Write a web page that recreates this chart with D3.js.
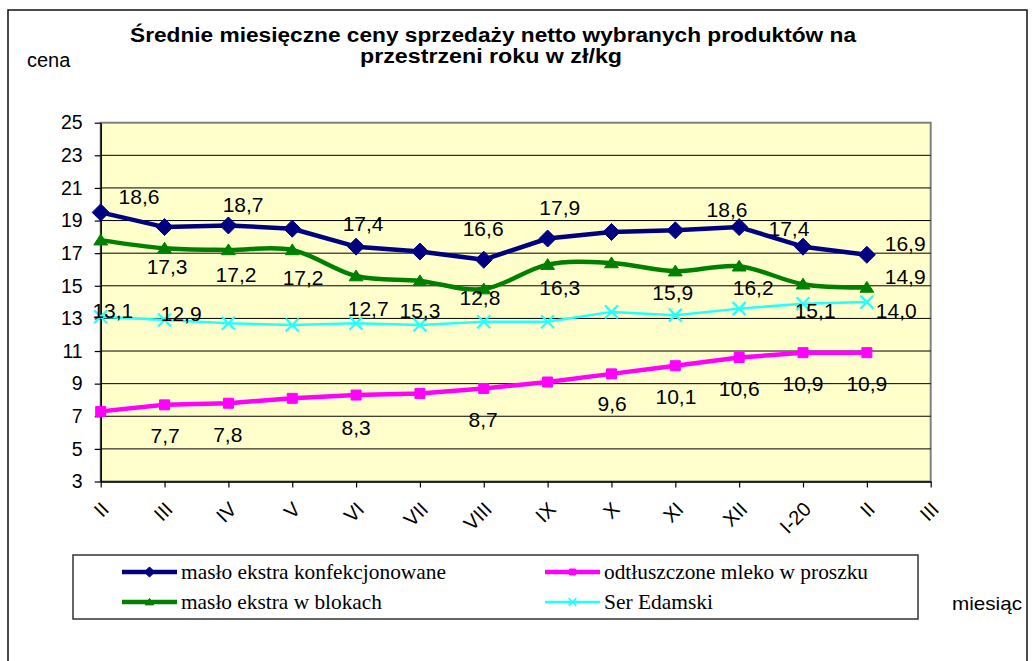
<!DOCTYPE html>
<html>
<head>
<meta charset="utf-8">
<script src="https://cdn.jsdelivr.net/npm/d3@7"></script>
<style>
  body { margin: 0; background: #fff; }
  svg text { fill: #000; }
</style>
</head>
<body>
<div id="chart"></div>
<script>
// DATA
const months = ["II", "III", "IV", "V", "VI", "VII", "VIII", "IX", "X", "XI", "XII", "I-20", "II", "III"];
const masloKonf = [19.5, 18.6, 18.7, 18.5, 17.4, 17.1, 16.6, 17.9, 18.3, 18.4, 18.6, 17.4, 16.9];
const masloBloki = [17.8, 17.3, 17.2, 17.2, 15.6, 15.3, 14.8, 16.3, 16.4, 15.9, 16.2, 15.1, 14.9];
const mleko = [7.3, 7.7, 7.8, 8.1, 8.3, 8.4, 8.7, 9.1, 9.6, 10.1, 10.6, 10.9, 10.9];
const ser = [13.1, 12.9, 12.7, 12.6, 12.7, 12.6, 12.8, 12.8, 13.4, 13.2, 13.6, 13.9, 14.0];
const yTicks = [3, 5, 7, 9, 11, 13, 15, 17, 19, 21, 23, 25];

// DATA LABELS: [month position, value level, text]
const masloKonfLabels = [[0.6, 20.5, "18,6"], [2.23, 20.0, "18,7"], [4.11, 18.8, "17,4"], [5.99, 18.5, "16,6"],
    [7.19, 19.8, "17,9"], [9.81, 19.7, "18,6"], [10.78, 18.5, "17,4"], [12.6, 17.6, "16,9"]];
const masloBlokiLabels = [[1.04, 16.2, "17,3"], [2.12, 15.7, "17,2"], [3.17, 15.5, "17,2"], [5.0, 13.5, "15,3"],
    [7.19, 14.9, "16,3"], [8.96, 14.6, "15,9"], [10.22, 14.9, "16,2"], [11.19, 13.5, "15,1"], [12.6, 15.6, "14,9"]];
const serLabels = [[0.19, 13.5, "13,1"], [1.26, 13.3, "12,9"], [4.19, 13.6, "12,7"], [5.94, 14.3, "12,8"], [12.46, 13.5, "14,0"]];
const mlekoLabels = [[1.01, 5.8, "7,7"], [1.99, 5.9, "7,8"], [4.0, 6.3, "8,3"], [5.99, 6.8, "8,7"], [8.01, 7.8, "9,6"],
    [9.01, 8.2, "10,1"], [10.0, 8.7, "10,6"], [11.0, 9.0, "10,9"], [12.0, 9.0, "10,9"]];

const legendNames = ["masło ekstra konfekcjonowane", "odtłuszczone mleko w proszku", "masło ekstra w blokach", "Ser Edamski"];

// FONTS
const sans = "'Liberation Sans', Arial, sans-serif";
const serif = "'Liberation Serif', 'DejaVu Serif', 'Times New Roman', serif";

// SIZE
const width = 1032;
const height = 661;
const plot = { left: 100.7, right: 930.7, top: 122.7, bottom: 481.5 };

const svg = d3.select("#chart")
    .append("svg")
    .attr("width", width)
    .attr("height", height)
    .attr("font-family", sans);

// OUTER FRAME
svg.append("rect")
    .attr("x", 8).attr("y", 10)
    .attr("width", 1019).attr("height", 700)
    .attr("fill", "none")
    .attr("stroke", "#111")
    .attr("stroke-width", 1.5);

// SCALES
const x = d3.scaleLinear().domain([0, months.length - 1]).range([plot.left, plot.right]);
const y = d3.scaleLinear().domain([3, 25]).range([plot.bottom, plot.top]);

// PLOT AREA
svg.append("rect")
    .attr("x", plot.left).attr("y", plot.top)
    .attr("width", plot.right - plot.left).attr("height", plot.bottom - plot.top)
    .attr("fill", "#FFFFCC")
    .attr("stroke", "#808080")
    .attr("stroke-width", 2);

// GRIDLINES
svg.append("g")
    .selectAll("line")
    .data(yTicks.filter(d => d > 3 && d < 25))
    .enter().append("line")
    .attr("x1", plot.left).attr("x2", plot.right)
    .attr("y1", d => y(d)).attr("y2", d => y(d))
    .attr("stroke", "#000")
    .attr("stroke-width", 1);

// AXES
const yAxis = svg.append("g")
    .attr("transform", "translate(" + plot.left + ",0)")
    .call(d3.axisLeft(y).tickValues(yTicks).tickSize(6).tickSizeOuter(0).tickPadding(12));
yAxis.attr("font-family", sans).attr("font-size", 19.5);

const xAxis = svg.append("g")
    .attr("transform", "translate(0," + plot.bottom + ")")
    .call(d3.axisBottom(x).tickValues(d3.range(months.length)).tickSize(6).tickSizeOuter(0)
        .tickFormat(i => months[i]));
xAxis.attr("font-family", sans).attr("font-size", 20);
xAxis.selectAll("text")
    .attr("x", 0).attr("y", 0).attr("dy", "0.35em")
    .attr("transform", "translate(4,24) rotate(-45)")
    .attr("text-anchor", "end");

svg.selectAll(".domain").attr("stroke", "#000").attr("stroke-width", 1.5);
svg.selectAll(".tick line").attr("stroke", "#000").attr("stroke-width", 1.2);

// MARKER SHAPES
function diamond(s) { return "M0," + (-s) + "L" + s + ",0L0," + s + "L" + (-s) + ",0Z"; }
function triangle(s) { return "M0," + (-s) + "L" + (s * 1.15) + "," + (s * 0.8) + "L" + (-s * 1.15) + "," + (s * 0.8) + "Z"; }
function square(s) { return "M" + (-s) + "," + (-s) + "H" + s + "V" + s + "H" + (-s) + "Z"; }
function cross(s) { return "M" + (-s) + "," + (-s) + "L" + s + "," + s + "M" + (-s) + "," + s + "L" + s + "," + (-s); }

const series = [
    { values: masloKonf, color: "#000080", width: 4.5, curve: d3.curveLinear, marker: diamond, size: 8.5, fill: true },
    { values: mleko, color: "#FF00FF", width: 4.5, curve: d3.curveLinear, marker: square, size: 5, fill: true },
    { values: masloBloki, color: "#008000", width: 4.5, curve: d3.curveCardinal.tension(0), marker: triangle, size: 6, fill: true },
    { values: ser, color: "#22FFFF", width: 2.5, curve: d3.curveLinear, marker: cross, size: 6.5, fill: false }
];

// LINES + MARKERS
const drawOrder = [1, 3, 2, 0];
drawOrder.forEach(function (k) {
    const s = series[k];
    const line = d3.line()
        .x((d, i) => x(i))
        .y(d => y(d))
        .curve(s.curve);
    svg.append("path")
        .datum(s.values)
        .attr("d", line)
        .attr("fill", "none")
        .attr("stroke", s.color)
        .attr("stroke-width", s.width)
        .attr("stroke-linejoin", "round");
    svg.append("g")
        .selectAll("path")
        .data(s.values)
        .enter().append("path")
        .attr("transform", (d, i) => "translate(" + x(i) + "," + y(d) + ")")
        .attr("d", s.marker(s.size))
        .attr("fill", s.fill ? s.color : "none")
        .attr("stroke", s.color)
        .attr("stroke-width", s.fill ? 1 : 2.2);
});

// DATA LABELS
const allLabels = [].concat(masloKonfLabels, masloBlokiLabels, serLabels, mlekoLabels);
svg.append("g")
    .attr("font-size", 21)
    .selectAll("text")
    .data(allLabels)
    .enter().append("text")
    .attr("x", d => x(d[0]))
    .attr("y", d => y(d[1]))
    .attr("dy", "0.36em")
    .attr("text-anchor", "middle")
    .text(d => d[2]);

// TITLE
const title = svg.append("g").attr("font-weight", "bold").attr("font-size", 19.5);
title.append("text")
    .attr("x", 130).attr("y", 42)
    .attr("textLength", 726).attr("lengthAdjust", "spacingAndGlyphs")
    .text("Średnie miesięczne ceny sprzedaży netto  wybranych produktów na");
title.append("text")
    .attr("x", 360).attr("y", 63)
    .attr("textLength", 262).attr("lengthAdjust", "spacingAndGlyphs")
    .text("przestrzeni roku w zł/kg");

// AXIS TITLES
svg.append("text")
    .attr("x", 27).attr("y", 67)
    .attr("font-size", 20)
    .text("cena");
svg.append("text")
    .attr("x", 952).attr("y", 610)
    .attr("textLength", 70).attr("lengthAdjust", "spacingAndGlyphs")
    .attr("font-size", 19)
    .text("miesiąc");

// LEGEND
const legend = svg.append("g");
legend.append("rect")
    .attr("x", 73).attr("y", 555)
    .attr("width", 845).attr("height", 64)
    .attr("fill", "#fff")
    .attr("stroke", "#333")
    .attr("stroke-width", 1.5);

const legendPos = [[122, 572], [545, 572], [122, 602], [545, 602]];
const legendWidths = [265, 264, 201, 109];
const legendSeries = [0, 1, 2, 3];
legendSeries.forEach(function (k, j) {
    const s = series[k];
    const p = legendPos[j];
    legend.append("line")
        .attr("x1", p[0]).attr("x2", p[0] + 55)
        .attr("y1", p[1]).attr("y2", p[1])
        .attr("stroke", s.color)
        .attr("stroke-width", s.width);
    legend.append("path")
        .attr("transform", "translate(" + (p[0] + 27.5) + "," + p[1] + ")")
        .attr("d", s.marker(s.size * 0.6))
        .attr("fill", s.fill ? s.color : "none")
        .attr("stroke", s.color)
        .attr("stroke-width", s.fill ? 1 : 1.5);
    legend.append("text")
        .attr("font-family", serif)
        .style("font-family", serif)
        .attr("font-size", 22)
        .attr("x", p[0] + 59).attr("y", p[1] + 7)
        .attr("textLength", legendWidths[j]).attr("lengthAdjust", "spacingAndGlyphs")
        .text(legendNames[j]);
});
</script>
</body>
</html>
